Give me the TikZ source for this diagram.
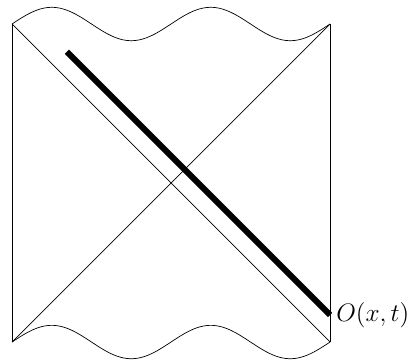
\documentclass[tikz,border=0pt]{standalone}
\begin{document}
\begin{tikzpicture}[scale=1.59]
    \useasboundingbox (-0.151,-0.226) rectangle (5.031,4.302);
    \coordinate (BL) at (0,0);
    \coordinate (BR) at (4,0);
    \coordinate (TL) at (0,4);
    \coordinate (TR) at (4,4);
    \draw (BL) -- (TL);
    \draw (BR) -- (TR);
    \draw (TL) -- (BR);
    \draw (BL) -- (TR);
    \draw[domain=0:4, samples=101, smooth] plot (\x, {4 + 0.21*sin(180*\x)});
    \draw[domain=0:4, samples=101, smooth] plot (\x, {0.21*sin(180*\x)});
    \coordinate (S) at (0.69,3.65);
    \coordinate (O) at (4,0.34);
    \draw[line width=3.4pt] (S) -- (O);
    \node[right, font=\Large] (Olabel) at (O) {$O(x,t)$};
  \end{tikzpicture}
\end{document}
